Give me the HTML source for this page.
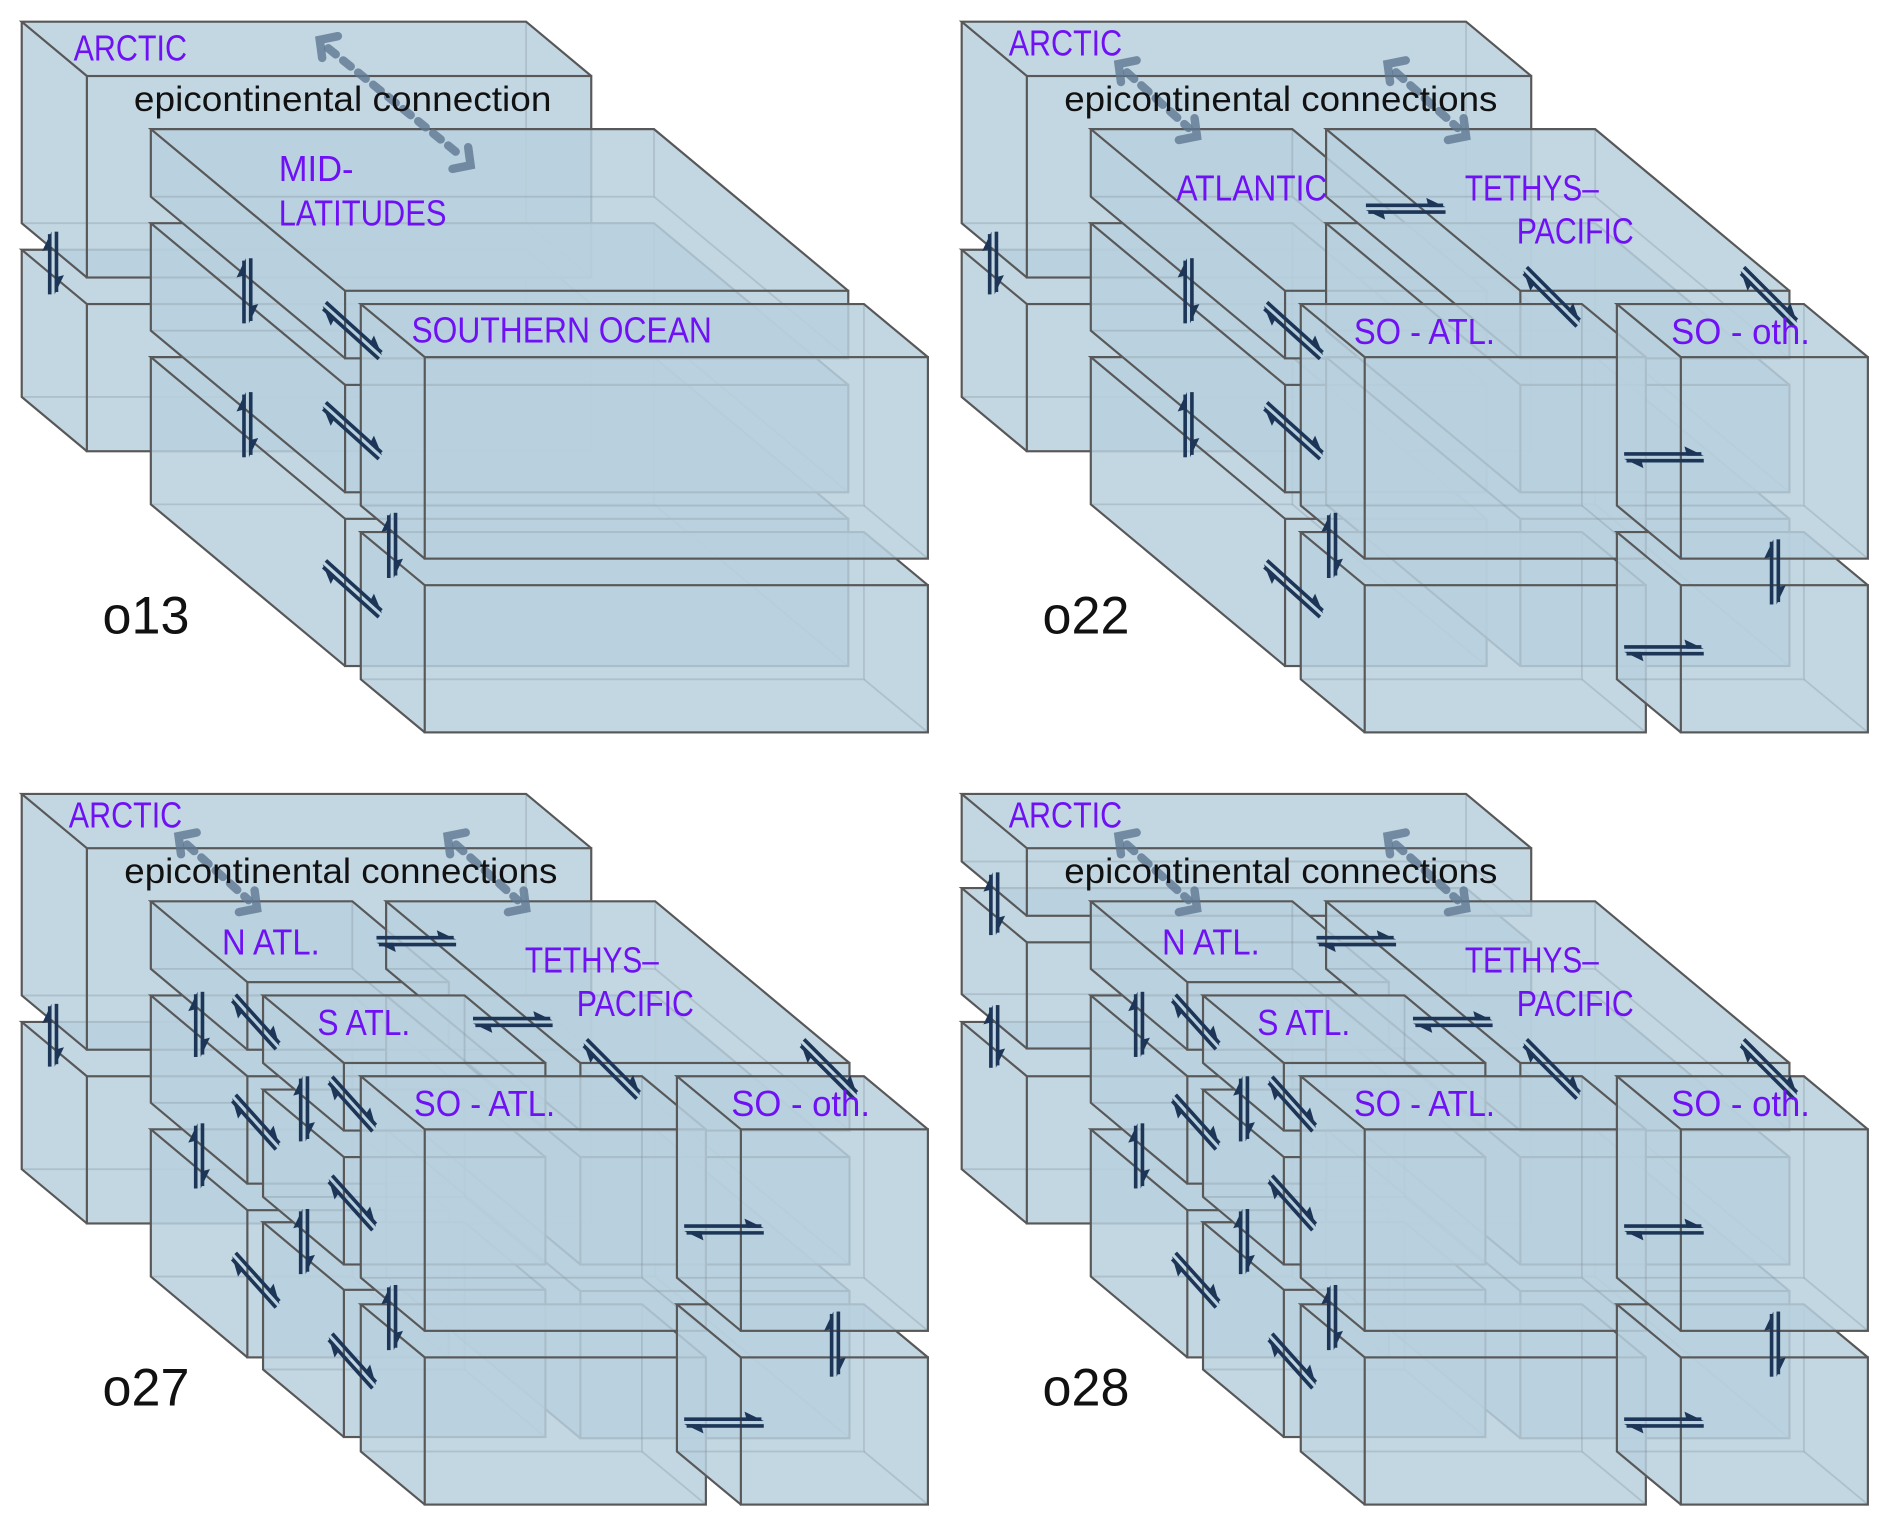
<!DOCTYPE html>
<html><head><meta charset="utf-8">
<style>
html,body{margin:0;padding:0;background:#fff;}
svg{display:block;}
text{font-family:"Liberation Sans","DejaVu Sans",sans-serif;}
</style></head>
<body>
<svg id="s" xmlns="http://www.w3.org/2000/svg" width="1892" height="1528" viewBox="0 0 1568 1266.4" preserveAspectRatio="none"></svg>
<script>
const S=document.getElementById('s');
let out='';
function box(ox,oy,bx,by,w,h,dx,dy){
  bx+=ox;by+=oy;
  const fx=bx+dx,fy=by+dy;
  const P=(a)=>a.map(p=>p.join(',')).join(' ');
  out+=`<polygon points="${P([[bx,by],[bx+w,by],[fx+w,fy],[fx+w,fy+h],[fx,fy+h],[bx,by+h]])}" fill="#b8d0de" fill-opacity="0.85"/>`;
  out+=`<polyline points="${P([[bx,by+h],[bx+w,by+h],[bx+w,by]])}" fill="none" stroke="#7a8a96" stroke-opacity="0.3" stroke-width="1.5"/>`;
  out+=`<line x1="${bx+w}" y1="${by+h}" x2="${fx+w}" y2="${fy+h}" stroke="#7a8a96" stroke-opacity="0.3" stroke-width="1.5"/>`;
  out+=`<rect x="${fx}" y="${fy}" width="${w}" height="${h}" fill="none" stroke="#585858" stroke-width="1.8"/>`;
  out+=`<polyline points="${P([[fx,fy],[bx,by],[bx+w,by],[fx+w,fy]])}" fill="none" stroke="#585858" stroke-width="1.8"/>`;
  out+=`<polyline points="${P([[bx,by],[bx,by+h],[fx,fy+h]])}" fill="none" stroke="#585858" stroke-width="1.8"/>`;
}
function harp(ox,oy,cx,cy,ang,L){
  cx+=ox;cy+=oy;const h=L/2;
  out+=`<g transform="translate(${cx},${cy}) rotate(${ang})" fill="#1d3658" stroke="#1d3658">`+
  `<line x1="${-h}" y1="-2.8" x2="${h-2}" y2="-2.8" stroke-width="3"/>`+
  `<line x1="${-h+2}" y1="2.8" x2="${h}" y2="2.8" stroke-width="3"/>`+
  `<polygon points="${h},-1.3 ${h-14},-1.3 ${h-16},-9" stroke="none"/>`+
  `<polygon points="${-h},1.3 ${-h+14},1.3 ${-h+16},9" stroke="none"/></g>`;
}
function dash(ox,oy,x1,y1,x2,y2){
  x1+=ox;y1+=oy;x2+=ox;y2+=oy;
  const st='stroke="#5f7891" stroke-opacity="0.8" stroke-width="7" fill="none" stroke-linecap="round"';
  out+=`<line x1="${x1+7}" y1="${y1+7}" x2="${x2-7}" y2="${y2-7}" ${st} stroke-linecap="butt" stroke-dasharray="8 8"/>`;
  out+=`<polyline points="${x1+15},${y1-3} ${x1},${y1} ${x1+2},${y1+15}" ${st}/>`;
  out+=`<polyline points="${x2-15},${y2+3} ${x2},${y2} ${x2-2},${y2-15}" ${st}/>`;
}
function txt(ox,oy,x,y,s,len,col,fs){
  out+=`<text x="${x+ox}" y="${y+oy}" font-size="${fs||30}" fill="${col||'#6f10f5'}" textLength="${len}" lengthAdjust="spacingAndGlyphs">${s}</text>`;
}
const D1=[161,134];
function stack3(ox,oy,bx,backs,w,d){
  const hs=[56,89,122];
  for(let i=2;i>=0;i--) box(ox,oy,bx,backs[i],w,hs[i],d[0],d[1]);
}
function arcticStd(ox,oy){
  box(ox,oy,18,207,418,122,54,45);
  box(ox,oy,18,18,418,167,54,45);
}
function soPair(ox,oy,bx,w){
  box(ox,oy,bx,441,w,122,53,44);
  box(ox,oy,bx,252,w,167,53,44);
}
(function(){const ox=0,oy=0;
  arcticStd(ox,oy);
  stack3(ox,oy,125,[107,185,296],417,D1);
  soPair(ox,oy,299,417);
  harp(ox,oy,44,218,-90,52);
  harp(ox,oy,205,241,-90,54);harp(ox,oy,205,352,-90,54);
  harp(ox,oy,292,274,42,64);harp(ox,oy,292,357,42,64);harp(ox,oy,292,488,42,64);
  harp(ox,oy,325,452,-90,54);
  dash(ox,oy,265,33,390,137);
  txt(ox,oy,61,50,'ARCTIC',94);
  txt(ox,oy,111,92,'epicontinental connection',346,'#111',29);
  txt(ox,oy,231,150,'MID-',62);
  txt(ox,oy,231,187,'LATITUDES',139);
  txt(ox,oy,341,284,'SOUTHERN OCEAN',249);
  txt(ox,oy,85,525,'o13',72,'#111',44);
})();
function rightParts(ox,oy,withSA){
  if(withSA){
    stack3(ox,oy,125,[107,185,296],167,[80,67]);
    stack3(ox,oy,320,[107,185,296],223,D1);
    stack3(ox,oy,218,[185,263,373],167,[67,56]);
  }else{
    stack3(ox,oy,125,[107,185,296],167,D1);
    stack3(ox,oy,320,[107,185,296],223,D1);
  }
  soPair(ox,oy,299,233);
  soPair(ox,oy,561,155);
  harp(ox,oy,325,452,-90,54);
  harp(ox,oy,507,246,45,64);harp(ox,oy,687,246,45,64);
  harp(ox,oy,600,379,0,66);harp(ox,oy,600,539,0,66);
  harp(ox,oy,692,474,-90,54);
  dash(ox,oy,148,53,213,113);dash(ox,oy,371,53,436,113);
  txt(ox,oy,57,46,'ARCTIC',94);
  txt(ox,oy,103,92,'epicontinental connections',359,'#111',29);
  txt(ox,oy,435,166,'TETHYS–',111);
  txt(ox,oy,478,202,'PACIFIC',97);
  txt(ox,oy,343,285,'SO - ATL.',117);
  txt(ox,oy,606,285,'SO - oth.',115);
}
(function(){const ox=779,oy=0;
  arcticStd(ox,oy);
  rightParts(ox,oy,false);
  harp(ox,oy,44,218,-90,52);
  harp(ox,oy,206,241,-90,54);harp(ox,oy,206,352,-90,54);
  harp(ox,oy,293,274,42,64);harp(ox,oy,293,357,42,64);harp(ox,oy,293,488,42,64);
  harp(ox,oy,386,173,0,66);
  txt(ox,oy,196,166,'ATLANTIC',125);
  txt(ox,oy,85,525,'o22',72,'#111',44);
})();
function atlSplit(ox,oy){
  harp(ox,oy,165,209,-90,54);harp(ox,oy,165,318,-90,54);
  harp(ox,oy,212,207,48,56);harp(ox,oy,212,290,48,56);harp(ox,oy,212,421,48,56);
  harp(ox,oy,252,279,-90,54);harp(ox,oy,252,389,-90,54);
  harp(ox,oy,292,275,48,56);harp(ox,oy,292,357,48,56);harp(ox,oy,292,488,48,56);
  harp(ox,oy,345,140,0,66);harp(ox,oy,425,207,0,66);
  txt(ox,oy,184,151,'N ATL.',81);
  txt(ox,oy,263,218,'S ATL.',77);
}
(function(){const ox=0,oy=640;
  arcticStd(ox,oy);
  rightParts(ox,oy,true);
  atlSplit(ox,oy);
  harp(ox,oy,44,218,-90,52);
  txt(ox,oy,85,525,'o27',72,'#111',44);
})();
(function(){const ox=779,oy=640;
  box(ox,oy,18,207,418,122,54,45);
  box(ox,oy,18,96,418,88,54,45);
  box(ox,oy,18,18,418,56,54,45);
  rightParts(ox,oy,true);
  atlSplit(ox,oy);
  harp(ox,oy,45,109,-90,52);harp(ox,oy,45,219,-90,52);
  txt(ox,oy,85,525,'o28',72,'#111',44);
})();
S.innerHTML=out;
</script>
</body></html>
